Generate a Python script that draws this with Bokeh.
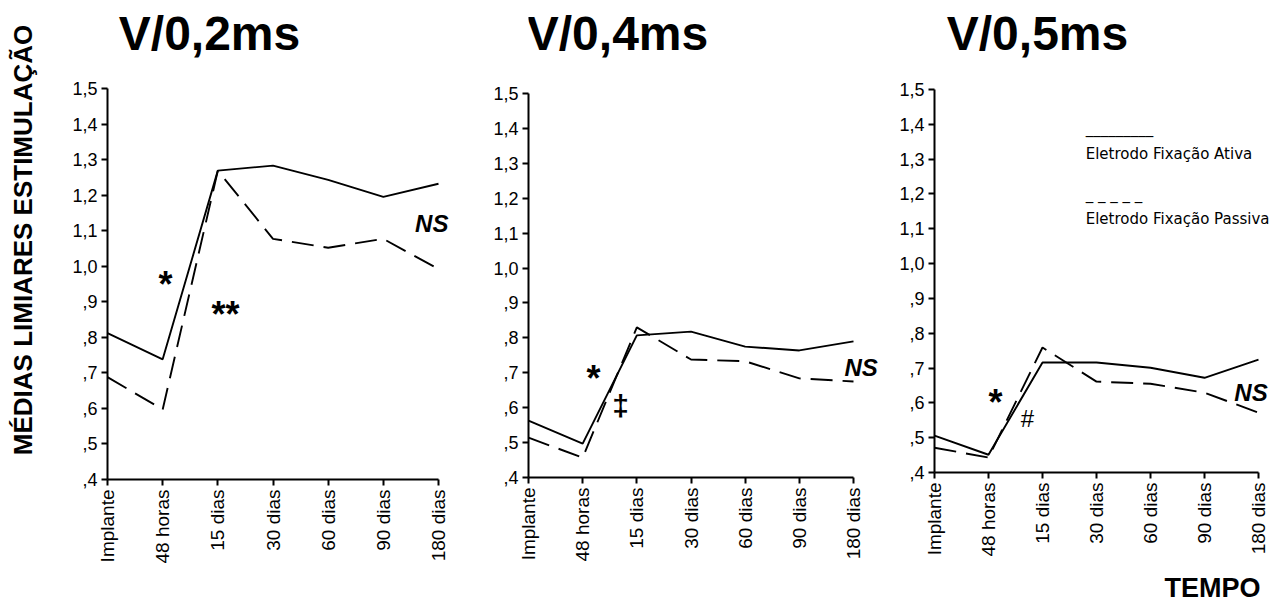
import math
from bokeh.plotting import figure
from bokeh.models import Range1d, FixedTicker, Label, Title
from bokeh.layouts import row
from bokeh.embed import file_html
from bokeh.resources import INLINE

# ---------------- data ----------------
categories = ["Implante", "48 horas", "15 dias", "30 dias", "60 dias", "90 dias", "180 dias"]
y_ticks = [0.4, 0.5, 0.6, 0.7, 0.8, 0.9, 1.0, 1.1, 1.2, 1.3, 1.4, 1.5]
y_tick_labels = [",4", ",5", ",6", ",7", ",8", ",9", "1,0", "1,1", "1,2", "1,3", "1,4", "1,5"]

titles = ["V/0,2ms", "V/0,4ms", "V/0,5ms"]

ativa_02 = [0.812, 0.738, 1.269, 1.283, 1.243, 1.195, 1.232]
passiva_02 = [0.688, 0.597, 1.269, 1.077, 1.052, 1.077, 0.992]

ativa_04 = [0.563, 0.497, 0.807, 0.818, 0.775, 0.764, 0.790]
passiva_04 = [0.514, 0.457, 0.830, 0.738, 0.733, 0.684, 0.675]

ativa_05 = [0.506, 0.451, 0.716, 0.716, 0.701, 0.672, 0.724]
passiva_05 = [0.471, 0.443, 0.759, 0.661, 0.655, 0.629, 0.572]

y_title = "MÉDIAS LIMIARES ESTIMULAÇÃO"
x_title = "TEMPO"
legend_ativa = "Eletrodo Fixação Ativa"
legend_passiva = "Eletrodo Fixação Passiva"

FONT = "Liberation Sans"
TOTAL_H = 606


def make_panel(left, frame_w, frame_top, axis_px, frame_bottom, axis_bottom_px,
               ativa, passiva, title, title_x, title_y, right=0):
    # axis_px: pixel length of the 0..6 axis; axis_bottom_px: pixel length of 0.4..1.5
    frame_h = frame_bottom - frame_top
    x_end = frame_w / (axis_px / 6.0)
    y_end = 0.4 + frame_h / (axis_bottom_px / 1.1)
    p = figure(frame_width=frame_w, frame_height=frame_h, output_backend="svg",
               toolbar_location=None,
               x_range=Range1d(0, x_end), y_range=Range1d(0.4, y_end),
               min_border_left=left, min_border_right=right,
               min_border_top=frame_top, min_border_bottom=TOTAL_H - frame_bottom)
    p.background_fill_color = "white"
    p.border_fill_color = "white"
    p.outline_line_color = None
    p.xgrid.grid_line_color = None
    p.ygrid.grid_line_color = None

    xs = list(range(len(categories)))
    p.line(xs, ativa, line_color="black", line_width=1.9)
    p.line(xs, passiva, line_color="black", line_width=1.9, line_dash="22 10")

    for ax in (p.xaxis[0], p.yaxis[0]):
        ax.axis_line_width = 2
        ax.axis_line_color = "black"
        ax.major_tick_line_width = 2
        ax.major_tick_line_color = "black"
        ax.major_tick_out = 6
        ax.major_tick_in = 0
        ax.minor_tick_line_color = None
        ax.major_label_text_font = FONT
        ax.major_label_text_color = "black"

    p.xaxis[0].bounds = (0, 6)
    p.xaxis[0].ticker = FixedTicker(ticks=xs, minor_ticks=[])
    p.xaxis[0].major_label_overrides = {i: c for i, c in enumerate(categories)}
    p.xaxis[0].major_label_orientation = math.pi / 2
    p.xaxis[0].major_label_standoff = 4
    p.xaxis[0].major_label_text_font_size = "19px"

    p.yaxis[0].bounds = (0.4, 1.5)
    p.yaxis[0].ticker = FixedTicker(ticks=y_ticks, minor_ticks=[])
    p.yaxis[0].major_label_overrides = {t: l for t, l in zip(y_ticks, y_tick_labels)}
    p.yaxis[0].major_label_standoff = 4
    p.yaxis[0].major_label_text_font_size = "18px"

    p.add_layout(Label(x=title_x, y=title_y, text=title, text_font=FONT,
                       text_font_size="48px", text_font_style="bold",
                       text_align="center", text_baseline="middle", text_color="black"))
    return p


def ann(p, x, y, text, size, style="bold", align="center", font=FONT, baseline="middle"):
    p.add_layout(Label(x=x, y=y, text=text, text_font=font, text_font_size=size,
                       text_font_style=style, text_align=align, text_baseline=baseline,
                       text_color="black"))


# Panel 1  (frame x 107..465, axis 107..438; frame y 0..479, axis 88..479)
p1 = make_panel(107, 358, 0, 331, 479, 391, ativa_02, passiva_02, titles[0], 1.849, 1.655)
p1.yaxis[0].axis_label = y_title
p1.yaxis[0].axis_label_text_font = FONT
p1.yaxis[0].axis_label_text_font_size = "26px"
p1.yaxis[0].axis_label_text_font_style = "bold"
p1.yaxis[0].axis_label_text_color = "black"
p1.yaxis[0].axis_label_standoff = 31
ann(p1, 1.05, 0.949, "*", "36px")
ann(p1, 2.14, 0.864, "**", "36px")
ann(p1, 6.18, 1.119, "NS", "24px", style="bold italic", align="right")

# Panel 2  (frame x 528..880, axis 528..853; frame y 0..477, axis 93..477)
p2 = make_panel(63, 352, 0, 325, 477, 384, ativa_04, passiva_04, titles[1], 1.643, 1.672)
ann(p2, 1.20, 0.684, "*", "36px")
ann(p2, 1.70, 0.606, "\u2021", "30px")
ann(p2, 6.45, 0.715, "NS", "24px", style="bold italic", align="right")

# Panel 3  (frame x 934..1280, axis 934..1258; frame y 0..472, axis 89..472)
p3 = make_panel(54, 346, 0, 324, 472, 383, ativa_05, passiva_05, titles[2], 1.907, 1.661)
ann(p3, 1.13, 0.601, "*", "36px")
ann(p3, 1.72, 0.555, "#", "24px", style="normal")
ann(p3, 6.17, 0.629, "NS", "24px", style="bold italic", align="right")
# legend (text-based, as in the original)
ann(p3, 2.80, 1.388, "_________", "15px", style="normal", align="left",
    font="DejaVu Sans", baseline="alphabetic")
ann(p3, 2.80, 1.316, legend_ativa, "15px", style="normal", align="left", font="DejaVu Sans")
ann(p3, 2.80, 1.200, "_ _ _ _ _", "15px", style="normal", align="left",
    font="DejaVu Sans", baseline="alphabetic")
ann(p3, 2.80, 1.129, legend_passiva, "15px", style="normal", align="left", font="DejaVu Sans")

p3.add_layout(Title(text=x_title, align="right", text_font=FONT, text_font_size="27px",
                    text_font_style="bold", text_color="black", standoff=22, offset=20),
              "below")

layout = row(p1, p2, p3)
open("out.html", "w").write(file_html(layout, INLINE))
